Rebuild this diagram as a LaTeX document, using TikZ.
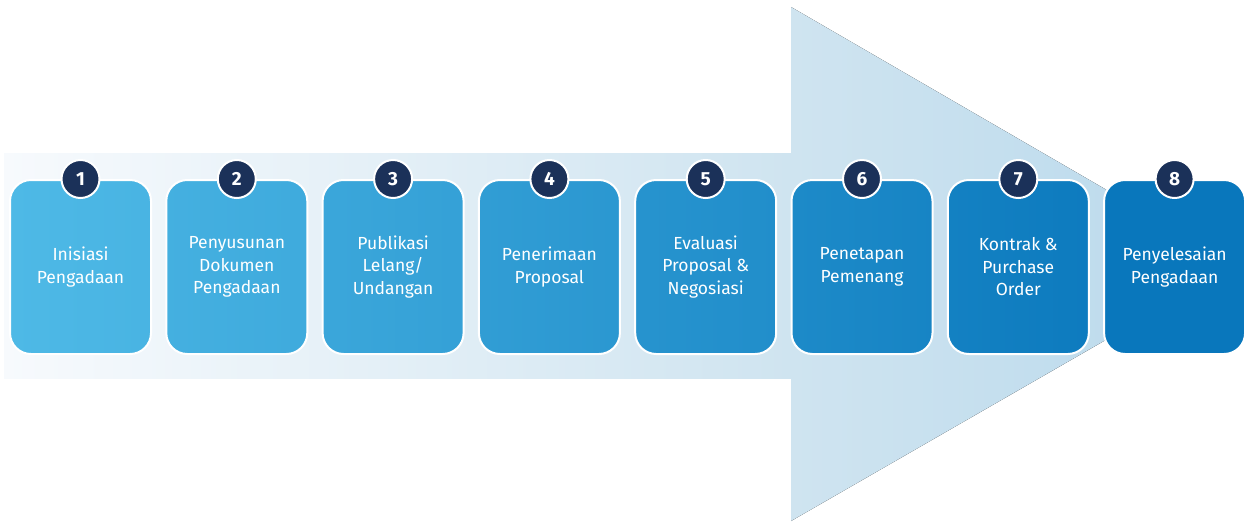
\documentclass[tikz,border=0pt]{standalone}
\usepackage{fontspec}
\setmainfont{Fira Sans}
\usepackage{tikz}
\usetikzlibrary{positioning}

\definecolor{arrowpale}{HTML}{F7FAFD}
\definecolor{arrowmid}{HTML}{CFE4F0}
\definecolor{arrowdeep}{HTML}{B9D9EC}
\definecolor{stepfirst}{HTML}{4EB9E6}
\definecolor{steplast}{HTML}{0977BC}
\definecolor{badgenavy}{HTML}{1B3159}

\tikzset{
  stepbox/.style={rounded corners=21pt, draw=white, line width=2pt,
    minimum width=141pt, minimum height=174pt, text=white, align=center,
    font=\fontsize{17.5}{22.5}\selectfont},
  numbadge/.style={circle, fill=badgenavy, draw=white, line width=2pt,
    minimum size=38pt, inner sep=0pt, text=white,
    font=\fontsize{19}{19}\selectfont\bfseries}
}

\begin{document}
\begin{tikzpicture}[x=1pt, y=-1pt]
  \useasboundingbox (0,0) rectangle (1248,523);

  % Big arrow
  \fill[left color=arrowpale, right color=arrowmid] (4,153) rectangle (791,378);
  \fill[left color=arrowmid, right color=arrowdeep] (791,7) -- (1236,265) -- (791,521) -- cycle;

  % Steps
  \foreach \n/\txt in {1/{Inisiasi\\Pengadaan},
                       2/{Penyusunan\\Dokumen\\Pengadaan},
                       3/{Publikasi\\Lelang/\\Undangan},
                       4/{Penerimaan\\Proposal},
                       5/{Evaluasi\\Proposal \&\\Negosiasi},
                       6/{Penetapan\\Pemenang},
                       7/{Kontrak \&\\Purchase\\Order},
                       8/{Penyelesaian\\Pengadaan}} {
    \pgfmathtruncatemacro\pl{100*(\n-1)/7}
    \pgfmathtruncatemacro\pr{min(100,100*(\n-0.4)/7)}
    \node[stepbox, left color=steplast!\pl!stepfirst, right color=steplast!\pr!stepfirst]
      (box\n) at ({80.5+156.3*(\n-1)},267) {\txt};
    \node[numbadge] (num\n) at (box\n.north) {\n};
  }
\end{tikzpicture}
\end{document}
